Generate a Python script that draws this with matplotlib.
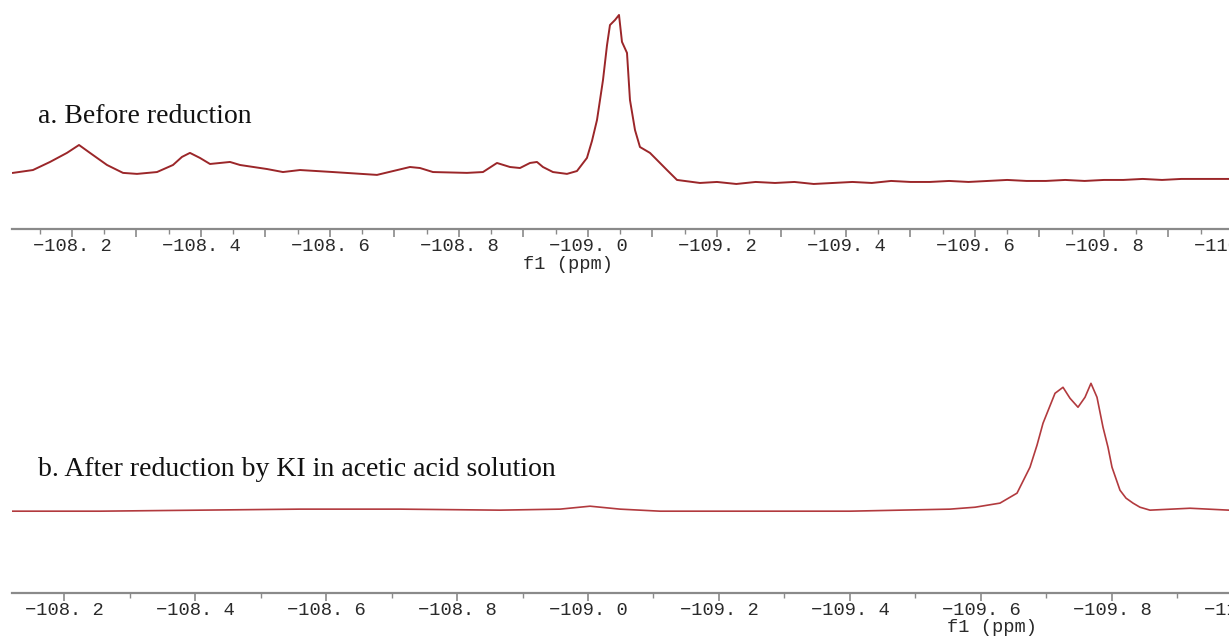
import matplotlib
matplotlib.use("Agg")
import matplotlib.pyplot as plt
from matplotlib.ticker import MultipleLocator, FuncFormatter

# ---------------- data ----------------
# a. Before reduction  (ppm, relative intensity)
ppm_a = [-108.1085, -108.1395, -108.1659, -108.1922, -108.2109, -108.2279, -108.2543,
         -108.2791, -108.3008, -108.3318, -108.3566, -108.3705, -108.3829, -108.3984,
         -108.4140, -108.4450, -108.4605, -108.5023, -108.5271, -108.5535, -108.6047,
         -108.6729, -108.7240, -108.7395, -108.7597, -108.8124, -108.8372, -108.8589,
         -108.8791, -108.8946, -108.9101, -108.9209, -108.9302, -108.9457, -108.9674,
         -108.9829, -108.9984, -109.0062, -109.0140, -109.0233, -109.0295, -109.0341,
         -109.0419, -109.0481, -109.0527, -109.0605, -109.0651, -109.0729, -109.0806,
         -109.0961, -109.1070, -109.1225, -109.1380, -109.1736,
         -109.20, -109.23, -109.26, -109.29, -109.32, -109.35, -109.38, -109.41,
         -109.44, -109.47, -109.50, -109.53, -109.56, -109.59, -109.62, -109.65,
         -109.68, -109.71, -109.74, -109.77, -109.80, -109.83, -109.86, -109.89,
         -109.92, -109.95, -109.98, -110.00]
int_a = [6.0, 7.7, 12.5, 17.9, 22.6, 17.9, 10.7,
         6.0, 5.4, 6.5, 10.7, 15.5, 17.9, 14.9,
         11.3, 12.5, 10.7, 8.3, 6.5, 7.7, 6.5,
         4.8, 9.5, 8.9, 6.5, 6.0, 6.5, 11.9,
         9.5, 8.9, 11.9, 12.5, 9.5, 6.5, 5.4,
         7.1, 14.9, 25.0, 37.5, 61.3, 82.0, 94.0,
         97.0, 100.0, 84.0, 77.4, 49.4, 31.5, 21.4,
         17.9, 13.7, 7.7, 1.8, 0.0,
         0.6, -0.6, 0.6, 0.0, 0.6, -0.6, 0.0, 0.6,
         0.0, 1.2, 0.6, 0.6, 1.2, 0.6, 1.2, 1.8,
         1.2, 1.2, 1.8, 1.2, 1.8, 1.8, 2.4, 1.8,
         2.4, 2.4, 2.4, 2.4]

# b. After reduction by KI in acetic acid solution
ppm_b = [-108.1206, -108.2550, -108.4076, -108.5603, -108.7130, -108.8656, -108.9573,
         -109.0031, -109.0489, -109.1099, -109.2473, -109.4000, -109.5527, -109.5910,
         -109.6290, -109.6550, -109.6748, -109.6855, -109.6947, -109.7130, -109.7252,
         -109.7359, -109.7481, -109.7588, -109.7679, -109.7771, -109.7863, -109.7939,
         -109.8000, -109.8122, -109.8214, -109.8321, -109.8427, -109.8580, -109.9191,
         -109.9786, -110.00]
int_b = [0.0, 0.0, 0.8, 1.6, 1.6, 0.8, 1.6,
         3.9, 1.6, 0.0, 0.0, 0.0, 1.6, 3.1,
         6.3, 14.1, 34.4, 51.6, 68.8, 92.2, 96.9,
         88.3, 81.3, 89.1, 100.0, 89.1, 65.6, 50.0,
         34.4, 16.4, 10.2, 6.3, 3.1, 0.8, 2.3,
         0.8, 0.8]

label_a = "a. Before reduction"
label_b = "b. After reduction by KI in acetic acid solution"
xlabel = "f1 (ppm)"

# ---------------- figure ----------------
W, H = 1229, 637
fig = plt.figure(figsize=(W / 100, H / 100), dpi=100)

def fx(px):
    return px / W

def fy(py):
    return 1 - py / H

mono = ["Liberation Mono", "DejaVu Sans Mono"]
serif = ["Liberation Serif", "DejaVu Serif"]
axis_grey = "#8a8a8a"

def fmt(v, pos):
    r = round(v * 10)
    if r % 2 != 0:
        return ""
    s = "%.1f" % v
    s = s.replace("-", "\u2212").replace(".", ". ")
    return s

def style(ax, major, minor, majlen, minlen):
    for sp in ["top", "left", "right"]:
        ax.spines[sp].set_visible(False)
    ax.spines["bottom"].set_color(axis_grey)
    ax.spines["bottom"].set_linewidth(1.6)
    ax.set_yticks([])
    ax.xaxis.set_major_locator(MultipleLocator(major))
    ax.xaxis.set_minor_locator(MultipleLocator(minor))
    ax.xaxis.set_major_formatter(FuncFormatter(fmt))
    ax.tick_params(axis="x", which="major", direction="out", length=majlen,
                   width=1.2, color=axis_grey, pad=0.5, labelsize=13.5,
                   labelcolor="#2a2a2a")
    ax.tick_params(axis="x", which="minor", direction="out", length=minlen,
                   width=1.0, color=axis_grey)
    for t in ax.get_xticklabels():
        t.set_fontfamily(mono)
    ax.patch.set_alpha(0)

# top panel: spine at y=229 px, left edge 12 px, right edge 1240 px
ax1 = fig.add_axes([fx(12), fy(229), fx(1240 - 12), fy(0) - fy(229)])
ax1.plot(ppm_a, int_a, color="#9b2629", lw=1.4)
ax1.set_xlim(-108.107, -110.0109)
ax1.set_ylim(-27.4, 108.9)
style(ax1, 0.1, 0.05, 6, 3.5)

# bottom panel: spine at y=593 px
ax2 = fig.add_axes([fx(12), fy(593), fx(1250 - 12), fy(290) - fy(593)])
ax2.plot(ppm_b, int_b, color="#b23a3e", lw=1.2)
ax2.set_xlim(-108.1206, -110.0107)
ax2.set_ylim(-64.0, 173.0)
style(ax2, 0.2, 0.1, 6, 3.5)

for ax in (ax1, ax2):
    for t in ax.get_xticklabels():
        t.set_fontfamily(mono)

fig.text(fx(568), fy(265), xlabel, ha="center", va="center",
         fontsize=13.5, family=mono, color="#2a2a2a")
fig.text(fx(992), fy(628), xlabel, ha="center", va="center",
         fontsize=13.5, family=mono, color="#2a2a2a")

fig.text(fx(38), fy(123), label_a, ha="left", va="baseline",
         fontsize=20, family=serif, color="#111111")
fig.text(fx(38), fy(476), label_b, ha="left", va="baseline",
         fontsize=20, family=serif, color="#111111")

fig.savefig("out.png", dpi=100)
